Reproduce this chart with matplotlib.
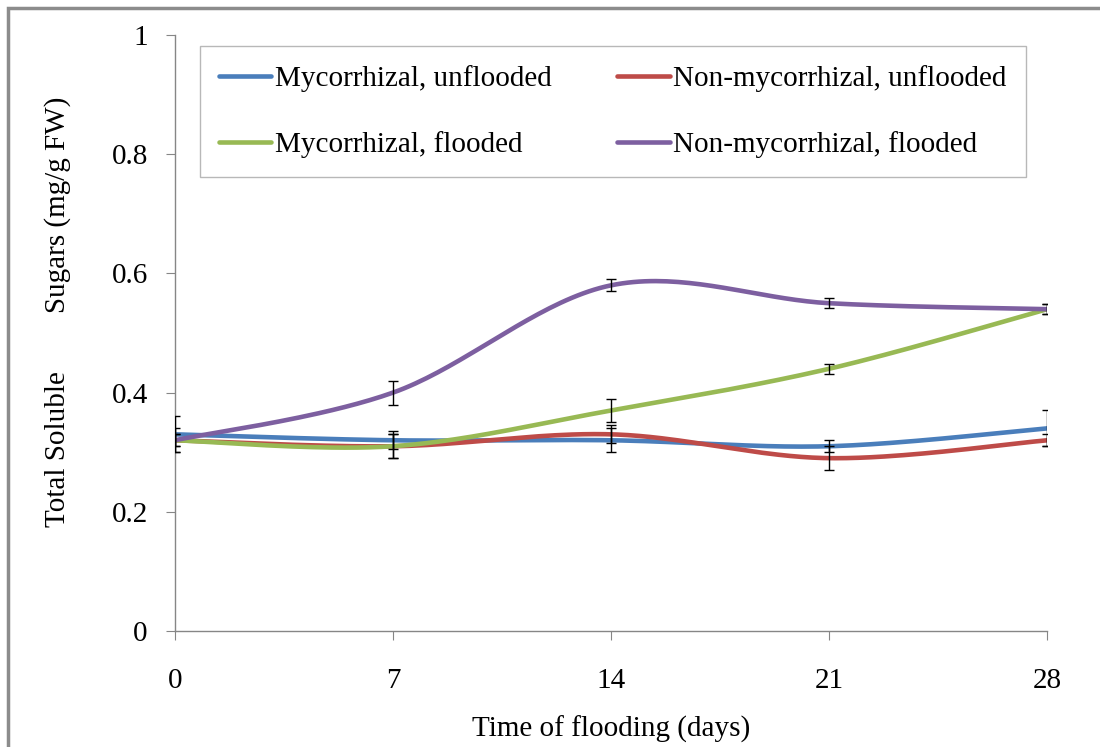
import numpy as np
import matplotlib
matplotlib.use('Agg')
from matplotlib import pyplot as plt
from matplotlib.patches import Rectangle

plt.rcParams['font.family'] = ['Liberation Serif', 'DejaVu Serif']

days = [0, 7, 14, 21, 28]

myc_unflooded = [0.33, 0.32, 0.32, 0.31, 0.34]
myc_unflooded_err = [0.03, 0.015, 0.02, 0.01, 0.03]

nonmyc_unflooded = [0.32, 0.31, 0.33, 0.29, 0.32]
nonmyc_unflooded_err = [0.02, 0.02, 0.015, 0.02, 0.01]

myc_flooded = [0.32, 0.31, 0.37, 0.44, 0.54]
myc_flooded_err = [0.01, 0.02, 0.02, 0.008, 0.008]

nonmyc_flooded = [0.32, 0.40, 0.58, 0.55, 0.54]
nonmyc_flooded_err = [0.01, 0.02, 0.01, 0.008, 0.008]

labels = ['Mycorrhizal, unflooded', 'Non-mycorrhizal, unflooded',
          'Mycorrhizal, flooded', 'Non-mycorrhizal, flooded']
colors = ['#4a7ebb', '#be4b48', '#98b954', '#7d5fa0']


def smooth(x, y, n=40):
    # Bezier segments with Catmull-Rom control points (Excel-style smoothed line)
    x = np.asarray(x, float)
    y = np.asarray(y, float)
    px = np.concatenate([[x[0]], x, [x[-1]]])
    py = np.concatenate([[y[0]], y, [y[-1]]])
    xs, ys = [], []
    t = np.linspace(0, 1, n)
    for i in range(1, len(px) - 2):
        p0 = np.array([px[i], py[i]])
        p3 = np.array([px[i + 1], py[i + 1]])
        c1 = p0 + (np.array([px[i + 1], py[i + 1]]) - np.array([px[i - 1], py[i - 1]])) / 6
        c2 = p3 - (np.array([px[i + 2], py[i + 2]]) - np.array([px[i], py[i]])) / 6
        b = ((1 - t) ** 3)[:, None] * p0 + (3 * (1 - t) ** 2 * t)[:, None] * c1 \
            + (3 * (1 - t) * t ** 2)[:, None] * c2 + (t ** 3)[:, None] * p3
        xs.append(b[:, 0])
        ys.append(b[:, 1])
    return np.concatenate(xs), np.concatenate(ys)


fig = plt.figure(figsize=(11, 7.47), dpi=100)
ax = fig.add_axes([0.159, 0.1553, 0.793, 0.7978])

series = [(myc_unflooded, myc_unflooded_err), (nonmyc_unflooded, nonmyc_unflooded_err),
          (myc_flooded, myc_flooded_err), (nonmyc_flooded, nonmyc_flooded_err)]
handles = []
for (vals, errs), lab, col in zip(series, labels, colors):
    sx, sy = smooth(days, vals)
    h, = ax.plot(sx, sy, color=col, linewidth=3.3, label=lab, solid_capstyle='round', zorder=2)
    handles.append(h)
for vals, errs in series:
    ax.errorbar(days, vals, yerr=errs, fmt='none', ecolor='black', elinewidth=1,
                capsize=3.8, capthick=1, zorder=3)

ax.set_xlim(0, 28)
ax.set_ylim(0, 1)
ax.set_xticks(days)
ax.set_yticks([0, 0.2, 0.4, 0.6, 0.8, 1])
ax.set_yticklabels(['0', '0.2', '0.4', '0.6', '0.8', '1'])
for s in ['top', 'right']:
    ax.spines[s].set_visible(False)
for s in ['left', 'bottom']:
    ax.spines[s].set_color('#868686')
    ax.spines[s].set_linewidth(1)
ax.tick_params(axis='both', direction='out', length=6.5, color='#868686', labelsize=21)
ax.tick_params(axis='x', pad=20)
ax.tick_params(axis='y', pad=13)
ax.set_xlabel('Time of flooding (days)', fontsize=21, labelpad=16)

fig.text(0.052, 0.583, 'Total Soluble        Sugars (mg/g FW)', rotation=90,
         fontsize=21, ha='center', va='center')

# row-major order: unflooded pair on top, flooded pair below
leg = ax.legend(handles=[handles[0], handles[2], handles[1], handles[3]],
                ncol=2, loc='upper left', bbox_to_anchor=(0.0287, 0.9815),
                borderaxespad=0, fontsize=21, frameon=True, fancybox=False,
                edgecolor='#a6a6a6', handlelength=1.8, handletextpad=0.12,
                borderpad=0.65, labelspacing=1.35, columnspacing=2.25)
leg.get_frame().set_linewidth(1)

# outer chart-area border
fig.patches.append(Rectangle((8 / 1100, -0.05), 1.1, 1 - 8 / 747 + 0.05,
                             transform=fig.transFigure, fill=False,
                             edgecolor='#8c8c8c', linewidth=2.5))

fig.savefig('out.png', dpi=100)
